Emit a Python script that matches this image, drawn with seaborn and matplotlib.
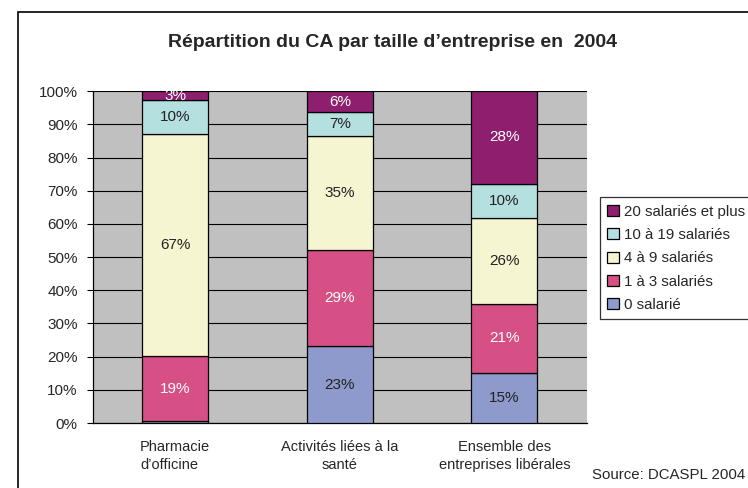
import matplotlib
matplotlib.use("Agg")
import matplotlib.pyplot as plt
import seaborn as sns
import numpy as np
from matplotlib.patches import Rectangle

categories = ["Pharmacie\nd\u2019officine", "Activités liées à la\nsanté", "Ensemble des\nentreprises libérales"]
series = ["0 salarié", "1 à 3 salariés", "4 à 9 salariés", "10 à 19 salariés", "20 salariés et plus"]
zero_sal = [0.5, 23.1, 15.0]
one_three = [19.6, 28.9, 21.0]
four_nine = [67.0, 34.5, 25.9]
ten_nineteen = [10.2, 7.2, 10.2]
twenty_plus = [2.7, 6.3, 27.9]
labels = [
    ["", "23%", "15%"],
    ["19%", "29%", "21%"],
    ["67%", "35%", "26%"],
    ["10%", "7%", "10%"],
    ["3%", "6%", "28%"],
]
values = [zero_sal, one_three, four_nine, ten_nineteen, twenty_plus]
colors = ["#8E9ACC", "#D64F85", "#F5F5D2", "#B4E0E0", "#8E1F6E"]
text_colors = ["#222222", "white", "#222222", "#222222", "white"]

sns.set_style("white")
plt.rcParams["font.family"] = ["Liberation Sans", "DejaVu Sans"]

fig = plt.figure(figsize=(7.48, 4.88), dpi=100)
ax = fig.add_axes([0.1243, 0.1331, 0.660, 0.680])
ax.set_facecolor("#C0C0C0")

bottom = np.zeros(3)
x = np.arange(3)
for vals, col, name, lab, tc in zip(values, colors, series, labels, text_colors):
    sns.barplot(x=x, y=vals, bottom=bottom, color=col, saturation=1, width=0.4,
                edgecolor="black", linewidth=0.9, label=name, ax=ax,
                native_scale=True, zorder=3)
    for i in range(3):
        if lab[i]:
            ax.text(x[i], bottom[i] + vals[i] / 2, lab[i], ha="center", va="center",
                    fontsize=11, color=tc, zorder=4)
    bottom = bottom + np.array(vals)

ax.set_xlim(-0.5, 2.5)
ax.set_ylim(0, 100)
ax.set_yticks(np.arange(0, 101, 10))
ax.set_yticklabels([f"{v}%" for v in range(0, 101, 10)], fontsize=11)
ax.yaxis.grid(True, color="black", linewidth=0.8, zorder=0)
ax.set_axisbelow(True)
ax.set_xticks([-0.5, 0.5, 1.5, 2.5])
ax.set_xticklabels([])
ax.set_xticks(x, minor=True)
ax.set_xticklabels(categories, minor=True, fontsize=10.5, linespacing=1.35)
ax.get_xticklabels(minor=True)[0].set_multialignment("left")
ax.tick_params(axis="x", which="minor", length=0, pad=12)
ax.tick_params(axis="x", which="major", length=5, width=0.8, direction="out", color="black")
ax.tick_params(axis="y", length=4, width=0.8, direction="out", color="black", left=True, pad=7)
ax.set_xlabel("")
ax.set_ylabel("")
for s in ["top", "right"]:
    ax.spines[s].set_visible(False)
for s in ["left", "bottom"]:
    ax.spines[s].set_color("black")
    ax.spines[s].set_linewidth(0.9)

handles, leg_labels = ax.get_legend_handles_labels()
if ax.get_legend() is not None:
    ax.get_legend().remove()
leg = fig.legend(handles[::-1], leg_labels[::-1], loc="upper left", bbox_to_anchor=(0.802, 0.596),
                 fontsize=10.8, frameon=True, fancybox=False, edgecolor="black",
                 handlelength=0.75, handleheight=0.75, handletextpad=0.35, labelspacing=0.62,
                 borderpad=0.5, borderaxespad=0)
leg.get_frame().set_linewidth(0.9)

fig.suptitle("Répartition du CA par taille d\u2019entreprise en  2004", x=0.525, y=0.912,
             va="center", fontsize=14, fontweight="bold")
fig.text(0.996, 0.012, "Source: DCASPL 2004", ha="right", va="bottom", fontsize=10.8)

fig.patches.append(Rectangle((0.024, -0.02), 1.0, 0.995, transform=fig.transFigure,
                             fill=False, edgecolor="black", linewidth=1.2))

fig.savefig("out.png", dpi=100)
